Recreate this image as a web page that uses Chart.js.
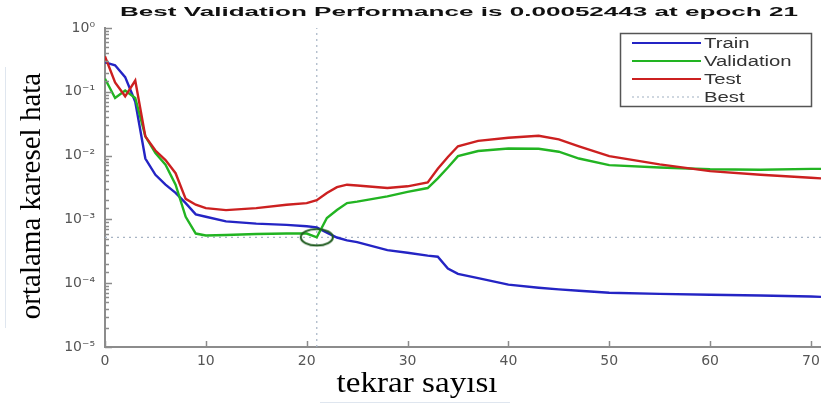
<!DOCTYPE html>
<html>
<head>
<meta charset="utf-8">
<script src="https://cdn.jsdelivr.net/npm/chart.js@4/dist/chart.umd.min.js"></script>
<style>
  html, body { margin: 0; padding: 0; background: #fff; }
  #wrap { width: 821px; height: 407px; position: relative; }
</style>
</head>
<body>
<div id="wrap"><canvas id="perfChart" width="821" height="407"></canvas></div>
<script>
const epochs = [0, 1, 2, 3, 4, 5, 6, 7, 8, 9, 10, 12, 15, 18, 20, 21, 22, 23, 24, 25, 28, 30, 32, 33, 34, 35, 37, 40, 43, 45, 47, 50, 55, 60, 65, 70, 71];

const trainPerf = [0.29, 0.26, 0.17, 0.07, 0.009, 0.005, 0.0035, 0.0026, 0.0018, 0.0012, 0.0011, 0.00093, 0.00086, 0.00082, 0.00078, 0.00075,
  0.00062, 0.00052, 0.00047, 0.00044, 0.00033, 0.0003, 0.00027, 0.00026, 0.00017, 0.00014, 0.00012, 0.000095, 0.000085, 0.00008, 0.000076,
  0.000071, 0.000068, 0.000066, 0.000064, 0.000062, 0.000061];

const validationPerf = [0.16, 0.08, 0.105, 0.08, 0.02, 0.011, 0.0072, 0.0035, 0.0011, 0.0006, 0.00056, 0.00057, 0.00059, 0.0006, 0.0006, 0.00052443,
  0.00105, 0.0014, 0.0018, 0.0019, 0.0023, 0.0027, 0.0031, 0.0044, 0.0065, 0.0098, 0.0118, 0.0129, 0.0128, 0.0115, 0.009,
  0.0071, 0.0065, 0.0061, 0.006, 0.0062, 0.0062];

const testPerf = [0.36, 0.14, 0.085, 0.15, 0.02, 0.012, 0.0085, 0.0053, 0.0021, 0.0017, 0.0015, 0.0014, 0.0015, 0.0017, 0.0018, 0.002,
  0.0026, 0.0032, 0.0035, 0.0034, 0.0031, 0.0033, 0.0038, 0.0062, 0.0095, 0.014, 0.017, 0.019, 0.0205, 0.018, 0.014,
  0.0098, 0.0073, 0.0057, 0.005, 0.0045, 0.0044];

const bestEpoch = 21;
const bestPerf = 0.00052443;
const xTicks = [0, 10, 20, 30, 40, 50, 60, 70];
const yPowers = [0, -1, -2, -3, -4, -5];

const titleText = 'Best Validation Performance is 0.00052443 at epoch 21';
const xTitle = 'tekrar sayısı';
const yTitle = 'ortalama karesel hata';
const legendItems = [
  { label: 'Train', color: '#2424c4', dash: [] },
  { label: 'Validation', color: '#22b422', dash: [] },
  { label: 'Test', color: '#cc2020', dash: [] },
  { label: 'Best', color: '#9fb0c2', dash: [2, 3] },
];

const toPoints = values => epochs.map((e, i) => ({ x: e, y: values[i] }));

const sup = { '0': '⁰', '1': '¹', '2': '²', '3': '³', '4': '⁴', '5': '⁵', '-': '⁻' };
const powerLabel = p => '10' + String(p).split('').map(c => sup[c]).join('');

// ellipse marker around the best point
const ring = document.createElement('canvas');
ring.width = 36;
ring.height = 20;
(() => {
  const c = ring.getContext('2d');
  c.strokeStyle = '#1e5a1e';
  c.lineWidth = 2;
  c.beginPath();
  c.ellipse(18, 10, 16, 8.2, 0, 0, Math.PI * 2);
  c.stroke();
})();

// draws text squeezed/stretched to a target width (the picture is wider than tall)
function stretchedText(ctx, text, cx, cy, width, font, color) {
  ctx.save();
  ctx.font = font;
  ctx.fillStyle = color;
  ctx.textAlign = 'center';
  ctx.textBaseline = 'middle';
  const w = ctx.measureText(text).width;
  ctx.translate(cx, cy);
  ctx.scale(width / w, 1);
  ctx.fillText(text, 0, 0);
  ctx.restore();
}

const decorations = {
  id: 'decorations',
  afterDraw(chart) {
    const { ctx, chartArea, scales } = chart;
    const x = scales.x;
    const y = scales.y;

    // inward tick marks
    ctx.save();
    ctx.strokeStyle = '#8c8c8c';
    ctx.lineWidth = 1.5;
    y.ticks.forEach(t => {
      const lg = Math.log10(t.value);
      const major = Math.abs(lg - Math.round(lg)) < 1e-9;
      const py = Math.round(y.getPixelForValue(t.value)) + 0.5;
      ctx.beginPath();
      ctx.moveTo(chartArea.left, py);
      ctx.lineTo(chartArea.left + (major ? 7 : 4), py);
      ctx.stroke();
    });
    xTicks.forEach(v => {
      const px = Math.round(x.getPixelForValue(v)) + 0.5;
      ctx.beginPath();
      ctx.moveTo(px, chartArea.bottom);
      ctx.lineTo(px, chartArea.bottom - 6);
      ctx.stroke();
    });
    ctx.restore();

    // title
    stretchedText(ctx, titleText, 459, 12, 678, 'bold 13px "Liberation Sans", Arial, sans-serif', '#111');

    // axis titles
    ctx.save();
    ctx.translate(32, 196);
    ctx.rotate(-Math.PI / 2);
    ctx.font = '29px "Liberation Serif", "Times New Roman", serif';
    ctx.fillStyle = '#000';
    ctx.textAlign = 'center';
    ctx.textBaseline = 'middle';
    ctx.fillText(yTitle, 0, 0);
    ctx.restore();
    stretchedText(ctx, xTitle, 417, 384, 161, '29px "Liberation Serif", "Times New Roman", serif', '#000');

    // faint text-box edges from the source figure
    ctx.save();
    ctx.strokeStyle = '#dfe6ef';
    ctx.lineWidth = 1;
    ctx.beginPath();
    ctx.moveTo(5.5, 67);
    ctx.lineTo(5.5, 328);
    ctx.moveTo(320, 402.5);
    ctx.lineTo(510, 402.5);
    ctx.stroke();
    ctx.restore();

    // legend box
    ctx.save();
    ctx.fillStyle = '#fff';
    ctx.fillRect(620, 33, 192, 74);
    ctx.strokeStyle = '#555';
    ctx.lineWidth = 1.5;
    ctx.strokeRect(620.5, 33.5, 191, 73);
    legendItems.forEach((item, i) => {
      const ly = 43 + i * 18;
      ctx.beginPath();
      ctx.setLineDash(item.dash);
      ctx.strokeStyle = item.color;
      ctx.lineWidth = item.dash.length ? 1.2 : 2;
      ctx.moveTo(632, ly);
      ctx.lineTo(701, ly);
      ctx.stroke();
      ctx.setLineDash([]);
      ctx.save();
      ctx.font = '14px "Liberation Sans", Arial, sans-serif';
      ctx.fillStyle = '#333';
      ctx.textBaseline = 'middle';
      ctx.translate(704, ly + 1);
      ctx.scale(1.45, 1);
      ctx.fillText(item.label, 0, 0);
      ctx.restore();
    });
    ctx.restore();
  }
};

const lineStyle = color => ({
  borderColor: color,
  backgroundColor: color,
  borderWidth: 2.4,
  pointRadius: 0,
  tension: 0,
  fill: false,
});

new Chart(document.getElementById('perfChart').getContext('2d'), {
  type: 'line',
  data: {
    datasets: [
      {
        label: 'Best point',
        data: [{ x: bestEpoch, y: bestPerf }],
        showLine: false,
        pointStyle: ring,
        pointRadius: 10,
      },
      { label: 'Test', data: toPoints(testPerf), ...lineStyle('#cc2020') },
      { label: 'Validation', data: toPoints(validationPerf), ...lineStyle('#22b422') },
      { label: 'Train', data: toPoints(trainPerf), ...lineStyle('#2424c4') },
      {
        label: 'Best',
        data: [{ x: 0, y: bestPerf }, { x: 71, y: bestPerf }],
        borderColor: '#a7b4c4',
        borderWidth: 1.2,
        borderDash: [2, 4],
        pointRadius: 0,
      },
      {
        label: 'Best epoch',
        data: [{ x: bestEpoch, y: 1e-5 }, { x: bestEpoch, y: 1 }],
        borderColor: '#a7b4c4',
        borderWidth: 1.2,
        borderDash: [2, 4],
        pointRadius: 0,
      },
    ],
  },
  options: {
    responsive: false,
    animation: false,
    devicePixelRatio: 1,
    layout: { autoPadding: false, padding: { top: 28, right: 0, bottom: 0, left: 0 } },
    plugins: {
      legend: { display: false },
      title: { display: false },
      tooltip: { enabled: false },
    },
    scales: {
      x: {
        type: 'linear',
        min: 0,
        max: 71,
        bounds: 'data',
        grid: { display: false, drawTicks: false },
        border: { display: true, color: '#8c8c8c', width: 2 },
        ticks: {
          stepSize: 10,
          includeBounds: false,
          autoSkip: false,
          maxRotation: 0,
          padding: 6,
          color: '#555',
          font: { family: '"DejaVu Sans", sans-serif', size: 14 },
          callback: value => (xTicks.includes(value) ? String(value) : ''),
        },
        afterFit: scale => {
          scale.height = 60;
          scale.paddingLeft = 0;
          scale.paddingRight = 0;
        },
      },
      y: {
        type: 'logarithmic',
        min: 1e-5,
        max: 1,
        grid: { display: false, drawTicks: false },
        border: { display: true, color: '#8c8c8c', width: 2 },
        ticks: {
          autoSkip: false,
          padding: 10,
          color: '#555',
          font: { family: '"DejaVu Sans", sans-serif', size: 14 },
          callback: value => {
            const p = Math.round(Math.log10(value));
            return yPowers.includes(p) && Math.abs(Math.log10(value) - p) < 1e-9 ? powerLabel(p) : '';
          },
        },
        afterFit: scale => {
          scale.width = 105;
          scale.paddingTop = 0;
          scale.paddingBottom = 0;
        },
      },
    },
  },
  plugins: [decorations],
});
</script>
</body>
</html>
